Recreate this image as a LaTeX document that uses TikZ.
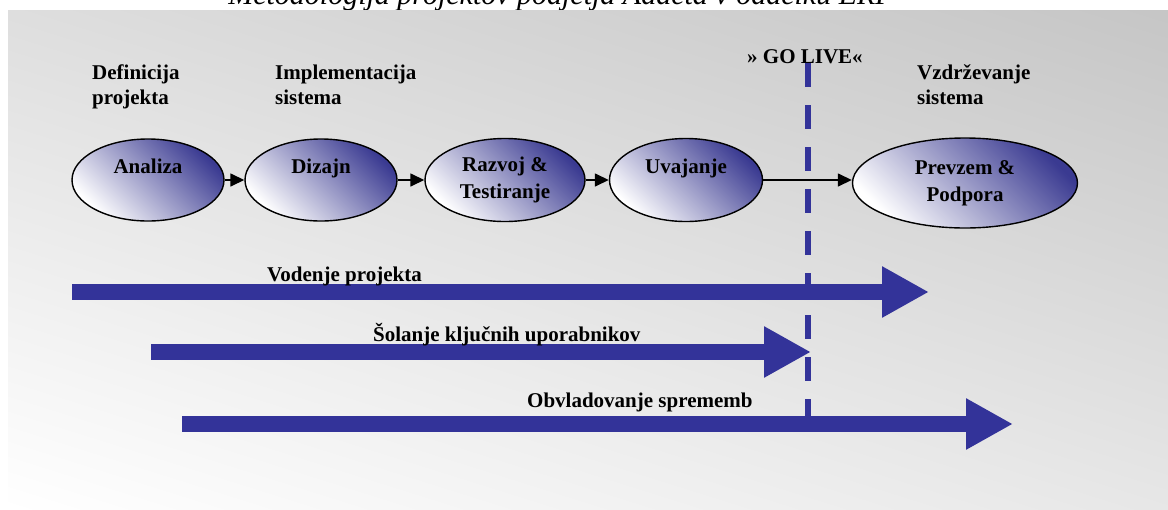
\documentclass[tikz,border=0pt]{standalone}
\usepackage{fontspec}
\setmainfont{Liberation Serif}
\usetikzlibrary{arrows.meta,shapes.geometric}
\definecolor{barblue}{RGB}{51,51,153}
\definecolor{ellblue}{RGB}{58,58,145}
\pgfdeclarefunctionalshading{bgshade}{\pgfpoint{0bp}{0bp}}{\pgfpoint{100bp}{100bp}}{}{%
  25 sub 50 div 0.13 mul
  exch 25 sub 50 div 0.095 mul
  add 1.0 exch sub
  dup dup
}
\begin{document}
\begin{tikzpicture}[x=1pt,y=-1pt,
  phase/.style={ellipse, draw=black, line width=1.4pt, top color=ellblue, bottom color=white,
    shading angle=-45, inner sep=0pt, align=center,
    font=\bfseries\fontsize{21}{27}\selectfont},
  lbl/.style={anchor=base west, inner sep=0pt, align=left,
    font=\bfseries\fontsize{21}{25}\selectfont},
  conn/.style={draw=black, line width=1.5pt, -{Triangle[length=14pt,width=13pt]}},
  bararrow/.style={draw=barblue, line width=16pt, -{Triangle[length=47pt,width=48pt]}},
  golive/.style={draw=barblue, line width=6pt, dash pattern=on 24pt off 18pt}
]
\useasboundingbox (0,0) rectangle (1168,509);
\clip (0,0) rectangle (1168,509);
% title (cut off at the top, as in the source)
\node[anchor=base, inner sep=0pt, font=\itshape\fontsize{30}{36}\selectfont] (title) at (561,4)
  {Metodologija projektov podjetja Adacta v oddelku ERP};
% background
\shade[shading=bgshade] (8,10) rectangle (1168,509);
% phase labels
\node[lbl] (def) at (92,104) {Definicija\\projekta};
\node[lbl] (impl) at (275,104) {Implementacija\\sistema};
\node[lbl] (golive) at (747,63) {» GO LIVE«};
\node[lbl] (vzd) at (917,104) {Vzdrževanje\\sistema};
% go-live dashed line
\coordinate (g1) at (808,63);
\coordinate (g2) at (808,417);
\draw[golive] (g1) -- (g2);
% phases
\node[phase, minimum width=152pt, minimum height=82pt] (a) at (148,180) {Analiza\\\mbox{}};
\node[phase, minimum width=152pt, minimum height=82pt] (d) at (321,180) {Dizajn\\\mbox{}};
\node[phase, minimum width=160pt, minimum height=83pt] (r) at (505,180) {Razvoj \&\\Testiranje};
\node[phase, minimum width=153pt, minimum height=83pt] (u) at (686,180) {Uvajanje\\\mbox{}};
\node[phase, minimum width=225pt, minimum height=90pt] (p) at (965,183) {Prevzem \&\\Podpora};
\draw[conn] (a) -- (d);
\draw[conn] (d) -- (r);
\draw[conn] (r) -- (u);
\draw[conn] (u.east) -- (u.east -| p.west);
% bar arrows
\coordinate (v1) at (72,292);  \coordinate (v2) at (929,292);
\coordinate (s1) at (151,352); \coordinate (s2) at (811,352);
\coordinate (o1) at (182,424); \coordinate (o2) at (1013,424);
\draw[bararrow] (v1) -- (v2);
\draw[bararrow] (s1) -- (s2);
\draw[bararrow] (o1) -- (o2);
\node[lbl] (vl) at (267,281) {Vodenje projekta};
\node[lbl] (sl) at (373,341) {Šolanje ključnih uporabnikov};
\node[lbl] (ol) at (527,407) {Obvladovanje sprememb};
\end{tikzpicture}
\end{document}
